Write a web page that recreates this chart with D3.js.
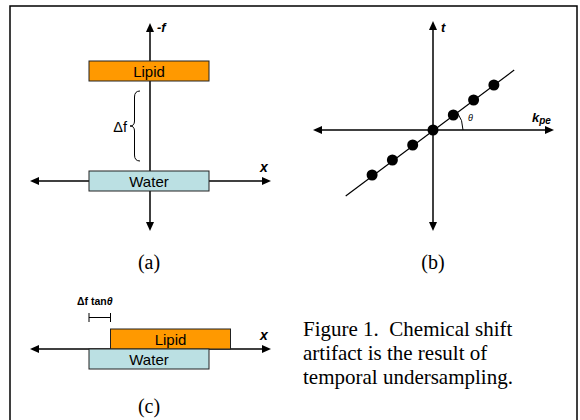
<!DOCTYPE html>
<html><head><meta charset="utf-8">
<script src="https://cdn.jsdelivr.net/npm/d3@7"></script>
<style>html,body{margin:0;padding:0;background:#fff;}svg{display:block;}</style>
</head><body>
<script>
// ---- data ----
const panelLabels = ["(a)", "(b)", "(c)"];
const bandNames = ["Lipid", "Water"];
const bandColors = ["#FF9900", "#BBE0E3"];
// panel (a): frequency position of each band (water 0, lipid shifted by Δf=5 units)
const bandFreq = [5, 0];
// panel (b): sampled points along the k_pe–t line
const kValues = [-3, -2, -1, 0, 1, 2, 3];
const tValues = [-3, -2, -1, 0, 1, 2, 3];
const lineK = [-4.3, 4.0];
const lineT = [-4.4, 4.0];
// panel (c): x offset of bands (lipid displaced by Δf tanθ)
const bandShift = [1, 0];
const captionLines = ["Figure 1.  Chemical shift", "artifact is the result of", "temporal undersampling."];

const W = 580, H = 420;
const svg = d3.select("body").append("svg").attr("width", W).attr("height", H);
const SANS = "'Liberation Sans', Arial, sans-serif";
const SERIF = "'Liberation Serif', 'Times New Roman', serif";

// frame
svg.append("rect").attr("x", 10).attr("y", 6).attr("width", 567).attr("height", 430)
  .attr("fill", "none").attr("stroke", "#000").attr("stroke-width", 1.5);

function arrow(g, x1, y1, x2, y2, sw) {
  const ang = Math.atan2(y2 - y1, x2 - x1);
  const L = 9, Wd = 4;
  const bx = x2 - L * Math.cos(ang), by = y2 - L * Math.sin(ang);
  g.append("line").attr("x1", x1).attr("y1", y1).attr("x2", bx).attr("y2", by)
    .attr("stroke", "#000").attr("stroke-width", sw || 1.5);
  const px = -Math.sin(ang) * Wd, py = Math.cos(ang) * Wd;
  g.append("path").attr("d", `M${x2},${y2}L${bx + px},${by + py}L${bx - px},${by - py}Z`).attr("fill", "#000");
}

// ---------- panel (a) ----------
const ga = svg.append("g");
const fy = d3.scaleLinear().domain([0, 5]).range([181, 71]);
const cxA = 150;
arrow(ga, cxA, 181, cxA, 23);
arrow(ga, cxA, 181, cxA, 231);
arrow(ga, cxA, 181, 30, 181);
arrow(ga, cxA, 181, 271, 181);
ga.selectAll("rect.band").data(bandNames).join("rect")
  .attr("x", 89).attr("width", 120)
  .attr("y", (d, i) => fy(bandFreq[i]) - 10).attr("height", 20)
  .attr("fill", (d, i) => bandColors[i]).attr("stroke", "#222").attr("stroke-width", 1);
ga.selectAll("text.band").data(bandNames).join("text")
  .attr("x", 149).attr("y", (d, i) => fy(bandFreq[i]) + 5.5)
  .attr("text-anchor", "middle").attr("font-family", SANS).attr("font-size", 15).text(d => d);
ga.append("text").attr("x", 157).attr("y", 32).attr("font-family", SANS).attr("font-size", 13)
  .attr("font-weight", "bold").attr("font-style", "italic").text("-f");
ga.append("text").attr("x", 260).attr("y", 172).attr("font-family", SANS).attr("font-size", 14)
  .attr("font-weight", "bold").attr("font-style", "italic").text("x");
// brace
const bt = 91, bb = 161, bm = (bt + bb) / 2;
ga.append("path")
  .attr("d", `M140,${bt} Q134.5,${bt} 134.5,${bt + 6} L134.5,${bm - 5} Q134.5,${bm} 130,${bm} Q134.5,${bm} 134.5,${bm + 5} L134.5,${bb - 6} Q134.5,${bb} 140,${bb}`)
  .attr("fill", "none").attr("stroke", "#000").attr("stroke-width", 1);
ga.append("text").attr("x", 127).attr("y", 132).attr("text-anchor", "end").attr("font-family", SANS)
  .attr("font-size", 14.5).text("Δf");
ga.append("text").attr("x", 149).attr("y", 269).attr("text-anchor", "middle").attr("font-family", SERIF)
  .attr("font-size", 20).text(panelLabels[0]);

// ---------- panel (b) ----------
const gb = svg.append("g");
const kx = d3.scaleLinear().domain([0, 1]).range([433, 453.3]);
const ty = d3.scaleLinear().domain([0, 1]).range([130, 115]);
arrow(gb, 433, 130, 433, 21);
arrow(gb, 433, 130, 433, 231);
arrow(gb, 433, 130, 313, 130);
arrow(gb, 433, 130, 554, 130);
gb.append("line").attr("x1", kx(lineK[0])).attr("y1", ty(lineT[0])).attr("x2", kx(lineK[1])).attr("y2", ty(lineT[1]))
  .attr("stroke", "#000").attr("stroke-width", 1.2);
gb.selectAll("circle").data(kValues).join("circle")
  .attr("cx", d => kx(d)).attr("cy", (d, i) => ty(tValues[i])).attr("r", 5.5).attr("fill", "#000");
// theta arc
const slopeAng = Math.atan2(ty(0) - ty(1), kx(1) - kx(0));
const arcR = 30;
gb.append("path")
  .attr("d", `M${433 + arcR},130 A${arcR},${arcR} 0 0 0 ${433 + arcR * Math.cos(slopeAng)},${130 - arcR * Math.sin(slopeAng)}`)
  .attr("fill", "none").attr("stroke", "#000").attr("stroke-width", 1);
gb.append("text").attr("x", 468).attr("y", 121).attr("font-family", SANS).attr("font-size", 9)
  .attr("font-style", "italic").text("θ");
gb.append("text").attr("x", 441).attr("y", 32).attr("font-family", SANS).attr("font-size", 13)
  .attr("font-weight", "bold").attr("font-style", "italic").text("t");
const kl = gb.append("text").attr("x", 532).attr("y", 122).attr("font-family", SANS).attr("font-size", 13)
  .attr("font-weight", "bold").attr("font-style", "italic");
kl.append("tspan").text("k");
kl.append("tspan").attr("font-size", 10).attr("dy", 2).text("pe");
gb.append("text").attr("x", 433).attr("y", 269).attr("text-anchor", "middle").attr("font-family", SERIF)
  .attr("font-size", 20).text(panelLabels[1]);

// ---------- panel (c) ----------
const gc = svg.append("g");
const sx = d3.scaleLinear().domain([0, 1]).range([89, 110.5]);
arrow(gc, 150, 349, 30, 349);
arrow(gc, 150, 349, 271, 349);
gc.selectAll("rect.band").data(bandNames).join("rect")
  .attr("x", (d, i) => sx(bandShift[i])).attr("width", 120)
  .attr("y", (d, i) => i === 0 ? 329 : 349).attr("height", 20)
  .attr("fill", (d, i) => bandColors[i]).attr("stroke", "#222").attr("stroke-width", 1);
gc.selectAll("text.band").data(bandNames).join("text")
  .attr("x", (d, i) => sx(bandShift[i]) + 60).attr("y", (d, i) => (i === 0 ? 339 : 359) + 5.5)
  .attr("text-anchor", "middle").attr("font-family", SANS).attr("font-size", 15).text(d => d);
gc.append("text").attr("x", 260).attr("y", 340).attr("font-family", SANS).attr("font-size", 14)
  .attr("font-weight", "bold").attr("font-style", "italic").text("x");
// Δf tanθ bracket
gc.append("line").attr("x1", sx(0)).attr("x2", sx(1)).attr("y1", 317.5).attr("y2", 317.5).attr("stroke", "#000").attr("stroke-width", 1);
[0, 1].forEach(v => gc.append("line").attr("x1", sx(v)).attr("x2", sx(v)).attr("y1", 313).attr("y2", 322).attr("stroke", "#000").attr("stroke-width", 1));
const dt = gc.append("text").attr("x", 77).attr("y", 305).attr("font-family", SANS).attr("font-size", 10.5).attr("font-weight", "bold");
dt.append("tspan").text("Δf tan");
dt.append("tspan").attr("font-style", "italic").text("θ");
gc.append("text").attr("x", 149).attr("y", 413).attr("text-anchor", "middle").attr("font-family", SERIF)
  .attr("font-size", 20).text(panelLabels[2]);

// caption
svg.append("g").selectAll("text").data(captionLines).join("text")
  .attr("x", 303).attr("y", (d, i) => 335.5 + i * 24)
  .attr("font-family", SERIF).attr("font-size", 21).style("white-space", "pre").text(d => d);
</script>
</body></html>
